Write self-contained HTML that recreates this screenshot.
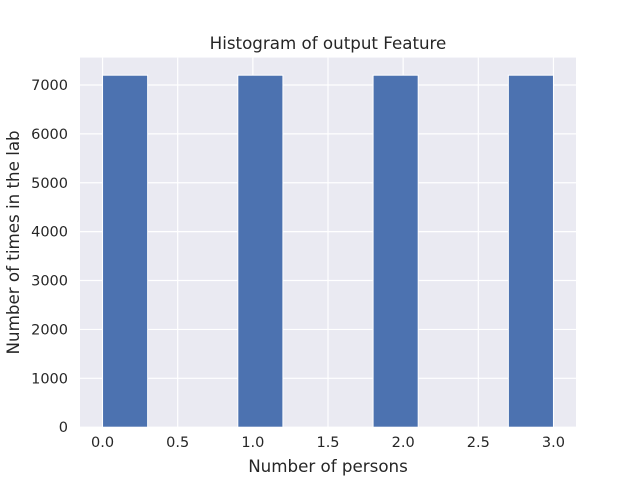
<!DOCTYPE html>
<html><head><meta charset="utf-8"><style>
body{margin:0;background:#fff;font-family:"DejaVu Sans","Liberation Sans",sans-serif}
</style></head><body>
<svg id="chart" width="640" height="480" xmlns="http://www.w3.org/2000/svg" font-family="DejaVu Sans, Liberation Sans, sans-serif"></svg>
<script>
const binEdges=[0,0.3,0.6,0.9,1.2,1.5,1.8,2.1,2.4,2.7,3.0];
const counts=[7200,0,0,7200,0,0,7200,0,0,7200];
const xTicks=[0.0,0.5,1.0,1.5,2.0,2.5,3.0];
const yTicks=[0,1000,2000,3000,4000,5000,6000,7000];
const NS="http://www.w3.org/2000/svg";
const svg=document.getElementById('chart');
const L=80,R=576,T=57.6,B=427.2;
const xmin=-0.15,xmax=3.15,ymax=Math.max(...counts)*1.05;
const sx=v=>L+(v-xmin)/(xmax-xmin)*(R-L);
const sy=v=>B-v/ymax*(B-T);
function mk(tag,attrs,name,text){const e=document.createElementNS(NS,tag);for(const k in attrs)e.setAttribute(k,attrs[k]);


if(text!==undefined)e.textContent=text;svg.appendChild(e);return e;}
mk('rect',{x:L,y:T,width:R-L,height:B-T,fill:'#eaeaf2'},'plot-area');
xTicks.forEach(t=>{mk('line',{x1:sx(t),x2:sx(t),y1:T,y2:B,stroke:'#fff','stroke-width':1.2},'x-gridline');
mk('text',{x:sx(t),y:B+20,'text-anchor':'middle','font-size':14.5,fill:'#262626'},'x-tick-label',t.toFixed(1));});
yTicks.forEach(t=>{mk('line',{x1:L,x2:R,y1:sy(t),y2:sy(t),stroke:'#fff','stroke-width':1.2},'y-gridline');
mk('text',{x:L-12,y:sy(t)+5,'text-anchor':'end','font-size':14.5,fill:'#262626'},'y-tick-label',String(t));});
counts.forEach((c,i)=>{if(c<=0)return;const x0=sx(binEdges[i]),x1=sx(binEdges[i+1]);
mk('rect',{x:x0,y:sy(c),width:x1-x0,height:B-sy(c),fill:'#4c72b0',stroke:'#fff','stroke-width':1},'histogram-bar');});
mk('text',{x:(L+R)/2,y:49,'text-anchor':'middle','font-size':16.7,fill:'#262626'},'chart-title','Histogram of output Feature');
mk('text',{x:(L+R)/2,y:472,'text-anchor':'middle','font-size':16.7,fill:'#262626'},'x-axis-title','Number of persons');
mk('text',{x:19,y:(T+B)/2,'text-anchor':'middle','font-size':16.7,fill:'#262626',transform:`rotate(-90 19 ${(T+B)/2})`},'y-axis-title','Number of times in the lab');
</script>
</body></html>
